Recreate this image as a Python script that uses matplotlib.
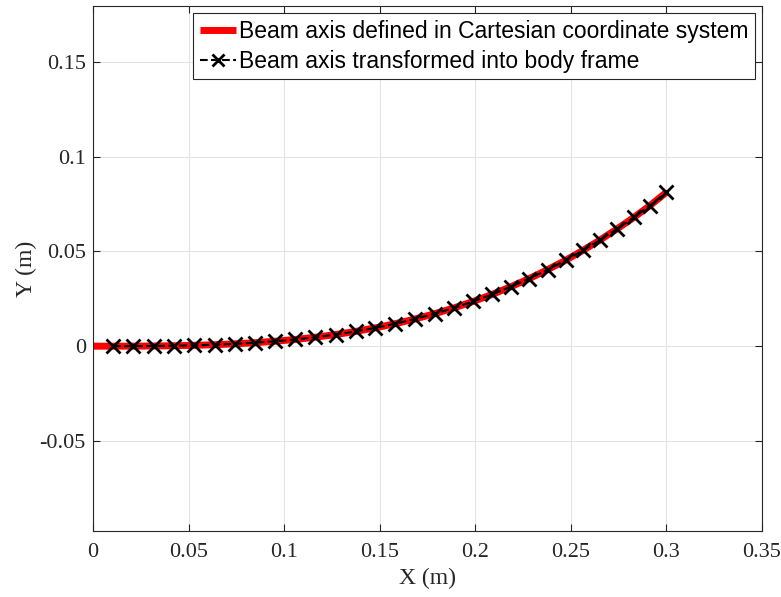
import matplotlib.pyplot as plt

# beam axis points (m)
x_cart = [0.0, 0.0106, 0.0212, 0.0318, 0.0424, 0.053, 0.0636, 0.0742, 0.0848, 0.0953,
          0.1059, 0.1164, 0.1269, 0.1374, 0.1478, 0.1582, 0.1685, 0.1788, 0.1889, 0.1989,
          0.2088, 0.2187, 0.2283, 0.2379, 0.2472, 0.2564, 0.2654, 0.2742, 0.2829, 0.2914, 0.3]
y_cart = [0.0, 0.0, 0.00003, 0.0001, 0.00023, 0.00045, 0.00077, 0.00123, 0.00183, 0.0026,
          0.00356, 0.00473, 0.00613, 0.00778, 0.00969, 0.01188, 0.01435, 0.01715, 0.0202, 0.0236,
          0.0273, 0.0314, 0.0357, 0.0404, 0.0453, 0.0506, 0.0561, 0.0619, 0.0679, 0.0742, 0.0812]

x_body = x_cart[1:]
y_body = y_cart[1:]

plt.rcParams['font.family'] = 'Liberation Serif'

fig = plt.figure(figsize=(7.81, 5.97), dpi=100)
ax = fig.add_axes([0.119, 0.1106, 0.8567, 0.8794])

ax.plot(x_cart, y_cart, color='red', lw=5, solid_capstyle='butt',
        label='Beam axis defined in Cartesian coordinate system')
ax.plot(x_body, y_body, color='black', ls='--', lw=1.5, marker='x', ms=10, mew=2,
        label='Beam axis transformed into body frame')

ax.set_xlim(0, 0.35)
ax.set_ylim(-0.0975, 0.1795)
ax.set_xticks([0, 0.05, 0.1, 0.15, 0.2, 0.25, 0.3, 0.35])
ax.set_xticklabels(['0', '0.05', '0.1', '0.15', '0.2', '0.25', '0.3', '0.35'])
ax.set_yticks([-0.05, 0, 0.05, 0.1, 0.15])
ax.set_yticklabels(['-0.05', '0', '0.05', '0.1', '0.15'])

ax.grid(True, color='#e3e3e3', lw=0.8)
ax.set_axisbelow(True)
ax.tick_params(direction='in', length=5, width=0.8, colors='#262626',
               labelsize=16, top=True, right=True)
ax.tick_params(axis='x', pad=9)
ax.tick_params(axis='y', pad=5)
for s in ax.spines.values():
    s.set_color('#262626')
    s.set_linewidth(0.8)

ax.set_xlabel('X (m)', fontsize=17, color='#262626', labelpad=4)
ax.set_ylabel('Y (m)', fontsize=17, color='#262626', labelpad=2)

leg = ax.legend(loc='upper right', fancybox=False, framealpha=1,
                edgecolor='#262626', handlelength=1.6, handletextpad=0.1,
                borderpad=0.3, labelspacing=0.3, borderaxespad=0.3,
                markerscale=0.8, prop={'family': 'Liberation Sans', 'size': 16.5})
leg.get_frame().set_linewidth(0.8)

fig.savefig('out.png', dpi=100)
